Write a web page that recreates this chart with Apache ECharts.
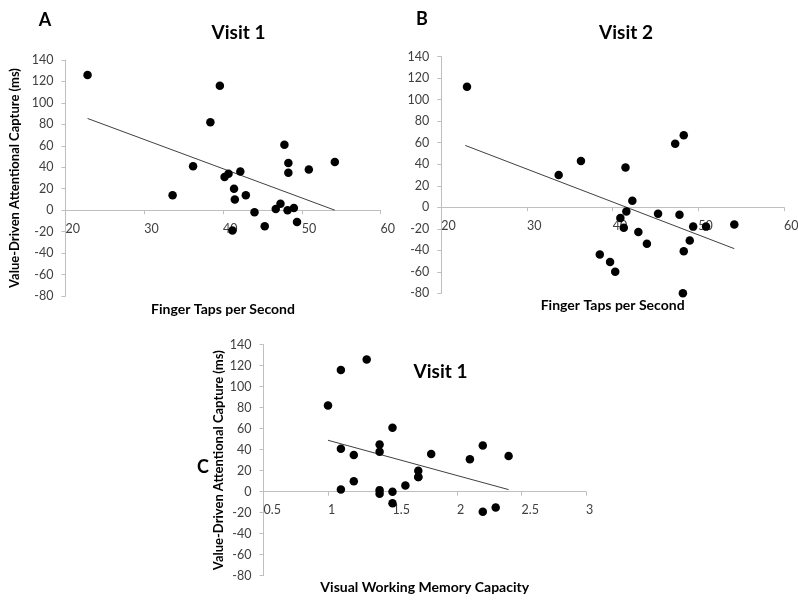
<!DOCTYPE html>
<html>
<head>
<meta charset="utf-8">
<script src="https://cdn.jsdelivr.net/npm/echarts@6/dist/echarts.min.js"></script>
<style>html,body{margin:0;padding:0;background:#fff}#c{width:798px;height:600px}</style>
</head>
<body>
<div id="c"></div>
<script>
// Panel A: Visit 1, finger taps vs capture
const tapsA = [22.8, 39.6, 38.4, 36.2, 33.6, 40.2, 40.7, 42.2, 41.4, 41.5, 42.9, 41.2, 44.0, 45.3, 46.7, 47.3, 48.2, 49.0, 49.4, 47.8, 48.3, 48.3, 50.9, 54.2];
const captureA = [126, 116, 82, 41, 14, 31, 34, 36, 20, 10, 14, -19, -2, -15, 1, 6, 0, 2, -11, 61, 44, 35, 38, 45];
const trendAx = [22.8, 54.2];
const trendAy = [85.5, 0];

// Panel B: Visit 2
const tapsB = [23.0, 33.7, 36.3, 41.5, 42.3, 41.6, 40.9, 41.3, 43.0, 44.0, 45.3, 47.8, 47.3, 48.3, 49.4, 50.9, 54.2, 49.0, 48.3, 48.2, 38.5, 39.7, 40.3];
const captureB = [112, 30, 43, 37, 6, -4, -10, -19, -23, -34, -6, -7, 59, 67, -18, -18, -16, -31, -41, -80, -44, -51, -60];
const trendBx = [22.8, 54.2];
const trendBy = [57.5, -38.5];

// Panel C: Visit 1, VWM capacity vs capture
const vwmC = [1.0, 1.1, 1.3, 1.1, 1.2, 1.2, 1.1, 1.4, 1.4, 1.4, 1.4, 1.5, 1.5, 1.5, 1.6, 1.7, 1.7, 1.7, 1.8, 2.1, 2.2, 2.2, 2.3, 2.4];
const captureC = [82, 116, 126, 41, 35, 10, 2, 45, 38, 1.5, -2, 61, 0, -11, 6, 20, 14, 14, 36, 31, 44, -19, -15, 34];
const trendCx = [1.0, 2.4];
const trendCy = [49, 2];

const yTicks = {min: -80, max: 140, interval: 20};
const tapTicks = {min: 20, max: 60, interval: 10};
const vwmTicks = {min: 0.5, max: 3, interval: 0.5};

const FONT = 'Lato, "Open Sans", sans-serif';
const axisGray = '#bfbfbf';
const labelGray = '#404040';

const grids = [
  {left: 65.5, top: 60, width: 315, height: 236},
  {left: 441.3, top: 56.7, width: 342.7, height: 236.6},
  {left: 263.5, top: 344.7, width: 322.5, height: 231}
];

function pairs(xs, ys){ return xs.map((x,i)=>[x, ys[i]]); }
// distance from grid bottom to the y=0 line, so the x axis crosses at zero
function zeroOffset(g){ return g.height * (0 - yTicks.min) / (yTicks.max - yTicks.min); }

function xAx(grid, ticks, name, gap){
  return {
    type: 'value', gridIndex: grid, min: ticks.min, max: ticks.max, interval: ticks.interval,
    position: 'bottom', offset: -zeroOffset(grids[grid]),
    name: name, nameLocation: 'middle', nameGap: gap,
    nameTextStyle: {fontFamily: FONT, fontWeight: 'bold', fontSize: 14, color: '#000'},
    axisLine: {show: true, onZero: false, lineStyle: {color: axisGray, width: 1}},
    axisTick: {show: true, length: 4, lineStyle: {color: axisGray}},
    axisLabel: {fontFamily: FONT, fontSize: 12.5, color: labelGray, align: 'left', margin: 12, showMinLabel: true, showMaxLabel: true},
    splitLine: {show: false}
  };
}
function yAx(grid, name, gap){
  return {
    type: 'value', gridIndex: grid, min: yTicks.min, max: yTicks.max, interval: yTicks.interval,
    name: name, nameLocation: 'middle', nameGap: gap, nameRotate: 90,
    nameTextStyle: {fontFamily: FONT, fontWeight: 'bold', fontSize: 13, color: '#000'},
    axisLine: {show: true, onZero: false, lineStyle: {color: axisGray, width: 1}},
    axisTick: {show: true, length: 4, lineStyle: {color: axisGray}},
    axisLabel: {fontFamily: FONT, fontSize: 12.5, color: labelGray, margin: 12, showMinLabel: true, showMaxLabel: true},
    splitLine: {show: false}
  };
}
function scatter(i, xs, ys){
  return {type: 'scatter', xAxisIndex: i, yAxisIndex: i, data: pairs(xs, ys), symbolSize: 8.5,
    itemStyle: {color: '#000', opacity: 1}, silent: true, z: 3};
}
function trend(i, xs, ys){
  return {type: 'line', xAxisIndex: i, yAxisIndex: i, data: pairs(xs, ys), showSymbol: false,
    lineStyle: {color: '#404040', width: 1}, silent: true, z: 2};
}

const yName = 'Value-Driven Attentional Capture (ms)';
const chart = echarts.init(document.getElementById('c'), null, {renderer: 'canvas'});
chart.setOption({
  animation: false,
  backgroundColor: '#fff',
  grid: grids.map(g => Object.assign({outerBoundsMode: 'none', containLabel: false}, g)),
  xAxis: [
    xAx(0, tapTicks, 'Finger Taps per Second', 92),
    xAx(1, tapTicks, 'Finger Taps per Second', 91),
    xAx(2, vwmTicks, 'Visual Working Memory Capacity', 89)
  ],
  yAxis: [
    yAx(0, yName, 44),
    yAx(1, '', 40),
    yAx(2, yName, 38)
  ],
  series: [
    trend(0, trendAx, trendAy), scatter(0, tapsA, captureA),
    trend(1, trendBx, trendBy), scatter(1, tapsB, captureB),
    trend(2, trendCx, trendCy), scatter(2, vwmC, captureC)
  ],
  graphic: [
    {type: 'text', x: 45, y: 20, style: {text: 'A', font: 'bold 18px ' + FONT, fill: '#000', align: 'center', verticalAlign: 'middle'}},
    {type: 'text', x: 422, y: 19, style: {text: 'B', font: 'bold 18px ' + FONT, fill: '#000', align: 'center', verticalAlign: 'middle'}},
    {type: 'text', x: 203, y: 467, style: {text: 'C', font: 'bold 18px ' + FONT, fill: '#000', align: 'center', verticalAlign: 'middle'}},
    {type: 'text', x: 238.5, y: 33, style: {text: 'Visit 1', font: 'bold 19px ' + FONT, fill: '#000', align: 'center', verticalAlign: 'middle'}},
    {type: 'text', x: 626, y: 33, style: {text: 'Visit 2', font: 'bold 19px ' + FONT, fill: '#000', align: 'center', verticalAlign: 'middle'}},
    {type: 'text', x: 440.5, y: 371.5, style: {text: 'Visit 1', font: 'bold 19px ' + FONT, fill: '#000', align: 'center', verticalAlign: 'middle'}}
  ]
});
</script>
</body>
</html>
